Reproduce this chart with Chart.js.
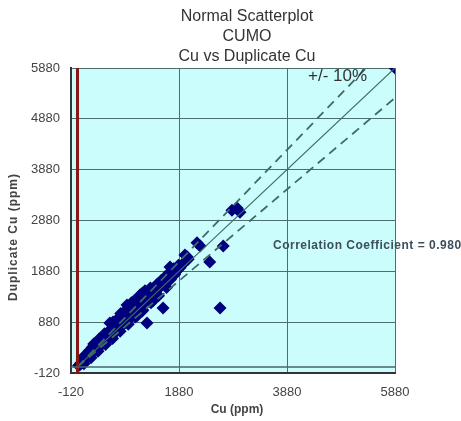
<!DOCTYPE html>
<html>
<head>
<meta charset="utf-8">
<script src="https://cdn.jsdelivr.net/npm/chart.js@4/dist/chart.umd.min.js"></script>
<style>
  html, body { margin: 0; padding: 0; background: #fff; }
  #wrap { width: 461px; height: 421px; position: relative; }
</style>
</head>
<body>
<div id="wrap"><canvas id="chart"></canvas></div>
<script>
// Chart texts
const titleLines = ['Normal Scatterplot', 'CUMO', 'Cu vs Duplicate Cu'];
const xTitle = 'Cu (ppm)';
const yTitle = 'Duplicate Cu (ppm)';
const limitLabel = '+/- 10%';
const corrLabel = 'Correlation Coefficient = 0.980';

// Axis ranges (ppm)
const axisMin = -120;
const axisMax = 5880;
const xStep = 2000;
const yStep = 1000;

// Cu vs duplicate Cu samples
const cuValues = [20, 40, 60, 80, 100, 120, 140, 160, 180, 200, 220, 240, 260, 280, 300, 320, 340, 360, 380, 400,
  420, 440, 460, 480, 500, 520, 540, 560, 580, 600, 620, 640, 660, 680, 700, 720, 740, 760, 780, 800,
  820, 840, 860, 880, 900, 920, 940, 960, 980, 1000, 1020, 1050, 1080, 1100, 1120, 1150, 1180, 1200, 1230, 1260,
  1290, 1320, 1350, 1380, 1410, 1440, 1470, 1500, 1530, 1560, 1600, 1640, 1680, 1720, 1760, 1800, 1850, 1900, 1950, 2000,
  2050, 600, 658, 843, 917, 1000, 1100, 1158, 1250, 1287, 1585, 1713, 1990, 2030, 2213, 2270, 2450, 2700,
  2640, 2860, 2960, 3010, 5880,
  90, 150, 210, 270, 330, 390, 450, 510, 570, 630, 690, 750, 810, 870, 930, 990, 1060, 1130, 1210, 1280,
  1340, 1420, 1480, 1550, 1620, 1700, 1780, 1870, 120, 250, 380, 520, 650, 790, 940, 1070, 1210, 1360, 1500, 1650,
  300, 400, 500, 750, 800, 1050, 1150, 1200, 1300, 1350, 1450, 1100, 1200, 1400];
const dupValues = [30, 35, 70, 75, 115, 110, 160, 150, 200, 190, 250, 230, 290, 270, 340, 310, 380, 350, 420, 390,
  470, 430, 500, 470, 560, 510, 600, 540, 640, 580, 690, 620, 720, 660, 780, 700, 820, 740, 860, 790,
  900, 830, 960, 870, 1000, 910, 1050, 960, 1080, 1000, 1130, 1060, 1200, 1110, 1250, 1170, 1300, 1230, 1350, 1280,
  1420, 1340, 1460, 1400, 1520, 1470, 1580, 1540, 1640, 1600, 1700, 1650, 1780, 1720, 1840, 1820, 1900, 1950, 2020, 2080,
  2120, 865, 884, 1060, 1219, 1260, 1300, 1415, 1500, 865, 1160, 1966, 2200, 2165, 2440, 2380, 2065, 2380,
  1160, 3080, 3120, 3040, 5880,
  170, 240, 310, 380, 440, 500, 560, 620, 690, 750, 810, 870, 940, 1000, 1060, 1120, 1200, 1270, 1350, 1420,
  1490, 1560, 1630, 1700, 1770, 1850, 1930, 2000, 60, 180, 310, 440, 560, 700, 840, 980, 1120, 1260, 1400, 1560,
  450, 550, 650, 950, 1050, 1300, 1250, 1450, 1350, 1550, 1500, 1000, 1100, 1300];

// Reference lines: 1:1, +10%, -10%
const oneToOneX = [0, 5880];
const oneToOneY = [0, 5880];
const plusTenX = [0, 5345];
const plusTenY = [0, 5880];
const minusTenX = [0, 5880];
const minusTenY = [0, 5292];

const toPoints = (xs, ys) => xs.map((x, i) => ({ x: x, y: ys[i] }));

// Plot background + free texts
const decorPlugin = {
  id: 'decor',
  beforeDraw(chart) {
    const { ctx, chartArea } = chart;
    ctx.save();
    ctx.fillStyle = '#ccfdfd';
    ctx.fillRect(chartArea.left, chartArea.top, chartArea.right - chartArea.left, chartArea.bottom - chartArea.top);
    ctx.restore();
  },
  afterDraw(chart) {
    const ctx = chart.ctx;
    ctx.save();
    ctx.fillStyle = '#333';
    ctx.textAlign = 'center';
    ctx.textBaseline = 'middle';
    ctx.font = '16px "Liberation Sans", Arial, sans-serif';
    titleLines.forEach((t, i) => ctx.fillText(t, 247, 17 + i * 20));

    ctx.font = 'bold 12px "Liberation Sans", Arial, sans-serif';
    ctx.fillStyle = '#444';
    ctx.fillText(xTitle, 237, 410);
    ctx.save();
    ctx.translate(14, 237);
    ctx.rotate(-Math.PI / 2);
    ctx.letterSpacing = '1px';
    ctx.fillText(yTitle, 0, 0);
    ctx.restore();

    ctx.fillStyle = '#333';
    ctx.font = '17px "Liberation Sans", Arial, sans-serif';
    ctx.textAlign = 'left';
    ctx.fillText(limitLabel, 308, 76);

    ctx.fillStyle = '#3d4f5c';
    ctx.font = 'bold 12px "Liberation Sans", Arial, sans-serif';
    ctx.letterSpacing = '0.5px';
    ctx.fillText(corrLabel, 273, 246);
    ctx.restore();
  }
};

const tickFont = { family: '"Liberation Sans", Arial, sans-serif', size: 13 };
const plainTick = (v) => String(v);

new Chart(document.getElementById('chart'), {
  type: 'scatter',
  data: {
    datasets: [
      {
        label: 'zero x',
        type: 'line',
        data: toPoints([axisMin, axisMax], [0, 0]),
        borderColor: '#4a6464',
        borderWidth: 1.5,
        pointRadius: 0
      },
      {
        label: 'zero y',
        type: 'line',
        data: toPoints([0, 0], [axisMin, axisMax]),
        borderColor: '#8b1414',
        borderWidth: 3,
        pointRadius: 0
      },
      {
        label: '1:1',
        type: 'line',
        data: toPoints(oneToOneX, oneToOneY),
        borderColor: '#3f6b66',
        borderWidth: 1.2,
        pointRadius: 0
      },
      {
        label: '+10%',
        type: 'line',
        data: toPoints(plusTenX, plusTenY),
        borderColor: '#3f6b66',
        borderWidth: 1.8,
        borderDash: [9, 6],
        pointRadius: 0
      },
      {
        label: '-10%',
        type: 'line',
        data: toPoints(minusTenX, minusTenY),
        borderColor: '#3f6b66',
        borderWidth: 1.8,
        borderDash: [9, 6],
        pointRadius: 0
      },
      {
        label: 'Cu vs Duplicate Cu',
        data: toPoints(cuValues, dupValues),
        pointStyle: 'rectRot',
        pointRadius: 6.5,
        backgroundColor: '#00007f',
        borderColor: '#00007f',
        borderWidth: 0
      }
    ]
  },
  options: {
    responsive: true,
    maintainAspectRatio: false,
    animation: false,
    layout: { padding: { top: 68, right: 66, left: 0, bottom: 0 } },
    plugins: {
      legend: { display: false },
      tooltip: { enabled: false }
    },
    scales: {
      x: {
        type: 'linear',
        min: axisMin,
        max: axisMax,
        ticks: { stepSize: xStep, color: '#444', font: tickFont, padding: 12, maxRotation: 0, callback: plainTick },
        grid: { color: '#4f6d6d', lineWidth: 1, tickLength: 0 },
        border: { color: '#333', width: 2 },
        afterFit: (s) => { s.height = 48; }
      },
      y: {
        type: 'linear',
        min: axisMin,
        max: axisMax,
        ticks: { stepSize: yStep, color: '#444', font: tickFont, padding: 11, callback: plainTick },
        grid: { color: '#4f6d6d', lineWidth: 1, tickLength: 0 },
        border: { color: '#333', width: 2 },
        afterFit: (s) => { s.width = 71; }
      }
    }
  },
  plugins: [decorPlugin]
});
</script>
</body>
</html>
